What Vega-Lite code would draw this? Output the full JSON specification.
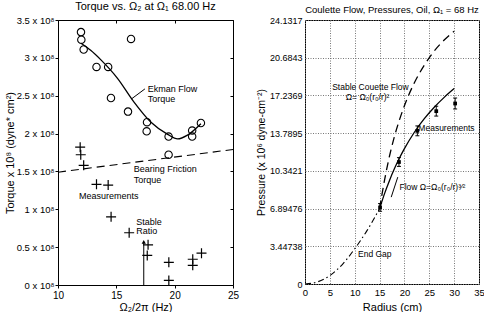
{
  "$schema": "https://vega.github.io/schema/vega-lite/v6.json",
  "padding": {"left": 3, "top": 0, "right": 0, "bottom": 0},
  "spacing": 15,
  "config": {
    "font": "Liberation Sans",
    "view": {"stroke": "black", "strokeWidth": 1},
    "axis": {"domain": false, "labelFont": "Liberation Sans", "titleFont": "Liberation Sans", "labelColor": "black", "titleColor": "black", "titleFontWeight": "normal", "tickColor": "black", "grid": false, "labelOverlap": false, "labelFlush": false},
    "title": {"font": "Liberation Sans", "fontWeight": "normal", "color": "black"},
    "text": {"font": "Liberation Sans"}
  },
  "datasets": {
    "circles": [
      {"x": 11.97, "y": 3.34}, {"x": 12.0, "y": 3.24}, {"x": 12.2, "y": 3.11}, {"x": 16.26, "y": 3.25},
      {"x": 13.3, "y": 2.88}, {"x": 14.3, "y": 2.88}, {"x": 14.54, "y": 2.47}, {"x": 16.0, "y": 2.29},
      {"x": 17.63, "y": 2.15}, {"x": 17.6, "y": 2.03}, {"x": 19.48, "y": 1.96}, {"x": 19.48, "y": 1.72},
      {"x": 21.5, "y": 2.04}, {"x": 21.5, "y": 1.96}, {"x": 22.25, "y": 2.14}
    ],
    "plus": [
      {"x": 11.9, "y": 1.82}, {"x": 11.95, "y": 1.72}, {"x": 12.2, "y": 1.58}, {"x": 13.3, "y": 1.33},
      {"x": 14.3, "y": 1.32}, {"x": 14.55, "y": 0.9}, {"x": 16.1, "y": 0.69}, {"x": 17.72, "y": 0.53},
      {"x": 17.65, "y": 0.39}, {"x": 19.5, "y": 0.3}, {"x": 19.5, "y": 0.06}, {"x": 21.55, "y": 0.34},
      {"x": 21.55, "y": 0.26}, {"x": 22.3, "y": 0.42}
    ],
    "ekman": [
      {"x": 12.0, "y": 3.19}, {"x": 12.8, "y": 3.1}, {"x": 13.7, "y": 2.97}, {"x": 15.1, "y": 2.73},
      {"x": 16.5, "y": 2.42}, {"x": 17.97, "y": 2.15}, {"x": 19.4, "y": 1.99}, {"x": 20.25, "y": 1.93},
      {"x": 21.1, "y": 1.98}, {"x": 22.25, "y": 2.13}
    ],
    "bearing": [{"x": 10, "y": 1.49}, {"x": 25, "y": 1.79}],
    "leftLeader": [{"x": 16.32, "y": 2.46, "x2": 17.45, "y2": 2.59}],
    "arrow": [{"x": 17.35, "y": 0, "y2": 0.57, "tip": 0.57}],
    "leftText": [
      {"t": "Ekman Flow", "x": 17.69, "y": 2.59}, {"t": "Torque", "x": 17.69, "y": 2.455},
      {"t": "Bearing Friction", "x": 16.49, "y": 1.534}, {"t": "Torque", "x": 16.49, "y": 1.39},
      {"t": "Measurements", "x": 11.8, "y": 1.18},
      {"t": "Stable", "x": 16.7, "y": 0.83}, {"t": "Ratio", "x": 16.7, "y": 0.71}
    ],
    "endgap": [
      {"r": 0, "p": 0}, {"r": 2.5, "p": 0.19}, {"r": 5, "p": 0.77}, {"r": 7.5, "p": 1.78},
      {"r": 10, "p": 3.22}, {"r": 12.5, "p": 4.9}, {"r": 15, "p": 6.89}
    ],
    "stable": [
      {"r": 15, "p": 6.89}, {"r": 16, "p": 9.5}, {"r": 17, "p": 11.7}, {"r": 18, "p": 13.5},
      {"r": 19, "p": 15.0}, {"r": 20, "p": 16.3}, {"r": 22, "p": 18.4}, {"r": 24, "p": 20.0},
      {"r": 26, "p": 21.3}, {"r": 28, "p": 22.3}, {"r": 30, "p": 23.1}
    ],
    "flow": [
      {"r": 15, "p": 6.89}, {"r": 16, "p": 8.26}, {"r": 17, "p": 9.47}, {"r": 18, "p": 10.55},
      {"r": 19, "p": 11.51}, {"r": 20, "p": 12.37}, {"r": 22, "p": 13.87}, {"r": 24, "p": 15.11},
      {"r": 26, "p": 16.16}, {"r": 28, "p": 17.06}, {"r": 30, "p": 17.86}
    ],
    "meas": [
      {"r": 15.1, "p": 7.0, "lo": 6.65, "hi": 7.35},
      {"r": 18.9, "p": 11.15, "lo": 10.75, "hi": 11.55},
      {"r": 22.6, "p": 14.0, "lo": 13.55, "hi": 14.45},
      {"r": 26.4, "p": 15.8, "lo": 15.35, "hi": 16.25},
      {"r": 30.2, "p": 16.5, "lo": 16.0, "hi": 17.0}
    ],
    "rightLeader": [{"r": 17.34, "p": 7.94, "r2": 18.66, "p2": 9.77}],
    "rightText": [
      {"t": "Stable Couette Flow", "r": 5.46, "p": 18.0},
      {"t": "Ω= Ω₀(r₀/r)²", "r": 8.2, "p": 17.05},
      {"t": "Measurements", "r": 22.8, "p": 14.26},
      {"t": "Flow Ω=Ω₀(r₀/r)³⁄²", "r": 19.0, "p": 8.85},
      {"t": "End Gap", "r": 10.66, "p": 2.75}
    ]
  },
  "hconcat": [
    {
      "width": 175,
      "height": 265,
      "title": {"text": "Torque vs. Ω₂ at Ω₁ 68.00 Hz", "fontSize": 11, "offset": 3},
      "resolve": {"axis": {"x": "independent", "y": "independent"}},
      "layer": [
        {
          "data": {"name": "circles"},
          "mark": {"type": "point", "shape": "circle", "filled": false, "stroke": "black", "strokeWidth": 1.1, "size": 55, "opacity": 1},
          "encoding": {
            "x": {"field": "x", "type": "quantitative", "scale": {"domain": [10, 25], "nice": false, "zero": false},
              "axis": {"orient": "bottom", "title": "Ω₂/2π (Hz)", "titleFontSize": 11, "labelFontSize": 10, "values": [10, 15, 20, 25], "tickCount": 10, "tickSize": 3, "labelPadding": 2, "titlePadding": 1}},
            "y": {"field": "y", "type": "quantitative", "scale": {"domain": [0, 3.5], "nice": false, "zero": false},
              "axis": {"orient": "left", "title": "Torque x 10⁸ (dyne* cm²)", "titleFontSize": 11, "labelFontSize": 9.5, "values": [0, 0.5, 1, 1.5, 2, 2.5, 3, 3.5], "tickCount": 10, "labelExpr": "format(datum.value, '~g') + ' x 10⁸'", "tickSize": 3, "labelPadding": 1, "titlePadding": 1}}
          }
        },
        {
          "data": {"name": "plus"},
          "mark": {"type": "point", "shape": "M-1,0L1,0M0,-1L0,1", "filled": false, "stroke": "black", "strokeWidth": 1.2, "size": 100, "opacity": 1},
          "encoding": {
            "x": {"field": "x", "type": "quantitative", "scale": {"domain": [10, 25], "nice": false, "zero": false},
              "axis": {"orient": "top", "labels": false, "title": null, "tickSize": -3, "values": [10, 15, 20, 25], "tickCount": 10, "minExtent": 0, "maxExtent": 0}},
            "y": {"field": "y", "type": "quantitative", "scale": {"domain": [0, 3.5], "nice": false, "zero": false},
              "axis": {"orient": "right", "labels": false, "title": null, "tickSize": -3, "values": [0, 0.5, 1, 1.5, 2, 2.5, 3, 3.5], "tickCount": 10, "minExtent": 0, "maxExtent": 0}}
          }
        },
        {
          "data": {"name": "ekman"},
          "mark": {"type": "line", "interpolate": "monotone", "stroke": "black", "strokeWidth": 1.3},
          "encoding": {
            "x": {"field": "x", "type": "quantitative", "axis": null},
            "y": {"field": "y", "type": "quantitative", "axis": null}
          }
        },
        {
          "data": {"name": "bearing"},
          "mark": {"type": "line", "stroke": "black", "strokeWidth": 1.1, "strokeDash": [8, 5]},
          "encoding": {
            "x": {"field": "x", "type": "quantitative", "axis": null},
            "y": {"field": "y", "type": "quantitative", "axis": null}
          }
        },
        {
          "data": {"name": "leftLeader"},
          "mark": {"type": "rule", "stroke": "black", "strokeWidth": 1},
          "encoding": {
            "x": {"field": "x", "type": "quantitative", "axis": null},
            "x2": {"field": "x2"},
            "y": {"field": "y", "type": "quantitative", "axis": null},
            "y2": {"field": "y2"}
          }
        },
        {
          "data": {"name": "arrow"},
          "mark": {"type": "rule", "stroke": "black", "strokeWidth": 1},
          "encoding": {
            "x": {"field": "x", "type": "quantitative", "axis": null},
            "y": {"field": "y", "type": "quantitative", "axis": null},
            "y2": {"field": "y2"}
          }
        },
        {
          "data": {"name": "arrow"},
          "mark": {"type": "point", "shape": "triangle-up", "filled": true, "fill": "black", "size": 18, "opacity": 1},
          "encoding": {
            "x": {"field": "x", "type": "quantitative", "axis": null},
            "y": {"field": "tip", "type": "quantitative", "axis": null}
          }
        },
        {
          "data": {"name": "leftText"},
          "mark": {"type": "text", "align": "left", "baseline": "middle", "fontSize": 9, "color": "black"},
          "encoding": {
            "x": {"field": "x", "type": "quantitative", "axis": null},
            "y": {"field": "y", "type": "quantitative", "axis": null},
            "text": {"field": "t"}
          }
        }
      ]
    },
    {
      "width": 174,
      "height": 264,
      "title": {"text": "Coulette Flow, Pressures, Oil, Ω₁ = 68 Hz", "fontSize": 9.5, "offset": 2},
      "layer": [
        {
          "data": {"name": "endgap"},
          "mark": {"type": "line", "interpolate": "monotone", "stroke": "black", "strokeWidth": 1.1, "strokeDash": [6, 3, 1.5, 3]},
          "encoding": {
            "x": {"field": "r", "type": "quantitative", "scale": {"domain": [0, 35], "nice": false, "zero": false},
              "axis": {"orient": "bottom", "title": "Radius (cm)", "titleFontSize": 11, "labelFontSize": 9.5, "values": [0, 5, 10, 15, 20, 25, 30, 35], "tickCount": 20, "ticks": false, "labelPadding": 3, "titlePadding": 5, "grid": true, "gridColor": "#777", "gridDash": [1, 1.5], "gridWidth": 1}},
            "y": {"field": "p", "type": "quantitative", "scale": {"domain": [0, 24.1317], "nice": false, "zero": false},
              "axis": {"orient": "left", "title": "Pressure (x 10⁶ dyne-cm⁻²)", "titleFontSize": 10.5, "labelFontSize": 9, "values": [0, 3.44738, 6.89476, 10.3421, 13.7895, 17.2369, 20.6843, 24.1317], "tickCount": 20, "labelExpr": "'' + datum.value", "ticks": false, "labelPadding": 3, "titlePadding": 3, "grid": true, "gridColor": "#777", "gridDash": [1, 1.5], "gridWidth": 1}}
          }
        },
        {
          "data": {"name": "stable"},
          "mark": {"type": "line", "interpolate": "monotone", "stroke": "black", "strokeWidth": 1.3, "strokeDash": [8, 5]},
          "encoding": {
            "x": {"field": "r", "type": "quantitative"},
            "y": {"field": "p", "type": "quantitative"}
          }
        },
        {
          "data": {"name": "flow"},
          "mark": {"type": "line", "interpolate": "monotone", "stroke": "black", "strokeWidth": 1.3},
          "encoding": {
            "x": {"field": "r", "type": "quantitative"},
            "y": {"field": "p", "type": "quantitative"}
          }
        },
        {
          "data": {"name": "meas"},
          "mark": {"type": "rule", "stroke": "black", "strokeWidth": 1},
          "encoding": {
            "x": {"field": "r", "type": "quantitative"},
            "y": {"field": "lo", "type": "quantitative"},
            "y2": {"field": "hi"}
          }
        },
        {
          "data": {"name": "meas"},
          "mark": {"type": "tick", "orient": "horizontal", "color": "black", "size": 4, "thickness": 1, "opacity": 1},
          "encoding": {
            "x": {"field": "r", "type": "quantitative"},
            "y": {"field": "lo", "type": "quantitative"}
          }
        },
        {
          "data": {"name": "meas"},
          "mark": {"type": "tick", "orient": "horizontal", "color": "black", "size": 4, "thickness": 1, "opacity": 1},
          "encoding": {
            "x": {"field": "r", "type": "quantitative"},
            "y": {"field": "hi", "type": "quantitative"}
          }
        },
        {
          "data": {"name": "meas"},
          "mark": {"type": "point", "shape": "square", "filled": true, "fill": "black", "size": 14, "opacity": 1},
          "encoding": {
            "x": {"field": "r", "type": "quantitative"},
            "y": {"field": "p", "type": "quantitative"}
          }
        },
        {
          "data": {"name": "rightLeader"},
          "mark": {"type": "rule", "stroke": "black", "strokeWidth": 1},
          "encoding": {
            "x": {"field": "r", "type": "quantitative"},
            "x2": {"field": "r2"},
            "y": {"field": "p", "type": "quantitative"},
            "y2": {"field": "p2"}
          }
        },
        {
          "data": {"name": "rightText"},
          "mark": {"type": "text", "align": "left", "baseline": "middle", "fontSize": 8.5, "color": "black"},
          "encoding": {
            "x": {"field": "r", "type": "quantitative"},
            "y": {"field": "p", "type": "quantitative"},
            "text": {"field": "t"}
          }
        }
      ]
    }
  ]
}
